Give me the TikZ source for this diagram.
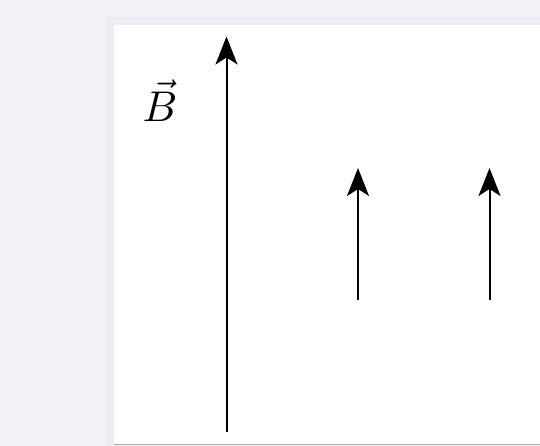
\documentclass[tikz,border=0pt]{standalone}
\usetikzlibrary{arrows.meta}
\definecolor{bgl}{HTML}{F3F1F8}
\definecolor{shad}{HTML}{EDEAF2}
\definecolor{edge}{HTML}{B0AEB4}
\begin{document}
\begin{tikzpicture}[x=1pt,y=-1pt,
  field/.style={draw=black,line width=2pt,-{Stealth[length=28pt,width=22pt,inset=7pt]}}]
\useasboundingbox (0,0) rectangle (540,446);
\fill[bgl] (0,0) rectangle (540,446);
\fill[shad] (106,17) rectangle (540,446);
\fill[white] (114,25.5) rectangle (540,444);
\draw[edge,line width=1.2pt] (114,444.6) -- (540,444.6);
\coordinate (l0) at (226.5,432);
\coordinate (l1) at (226.5,36.5);
\coordinate (m0) at (358,299.5);
\coordinate (m1) at (358,168);
\coordinate (r0) at (489.5,299.5);
\coordinate (r1) at (489.5,168);
\draw[field] (l0) -- (l1);
\draw[field] (m0) -- (m1);
\draw[field] (r0) -- (r1);
\node[anchor=base,inner sep=0pt,scale=4.3] (B) at (160,121.5) {$\vec{B}$};
\end{tikzpicture}
\end{document}
